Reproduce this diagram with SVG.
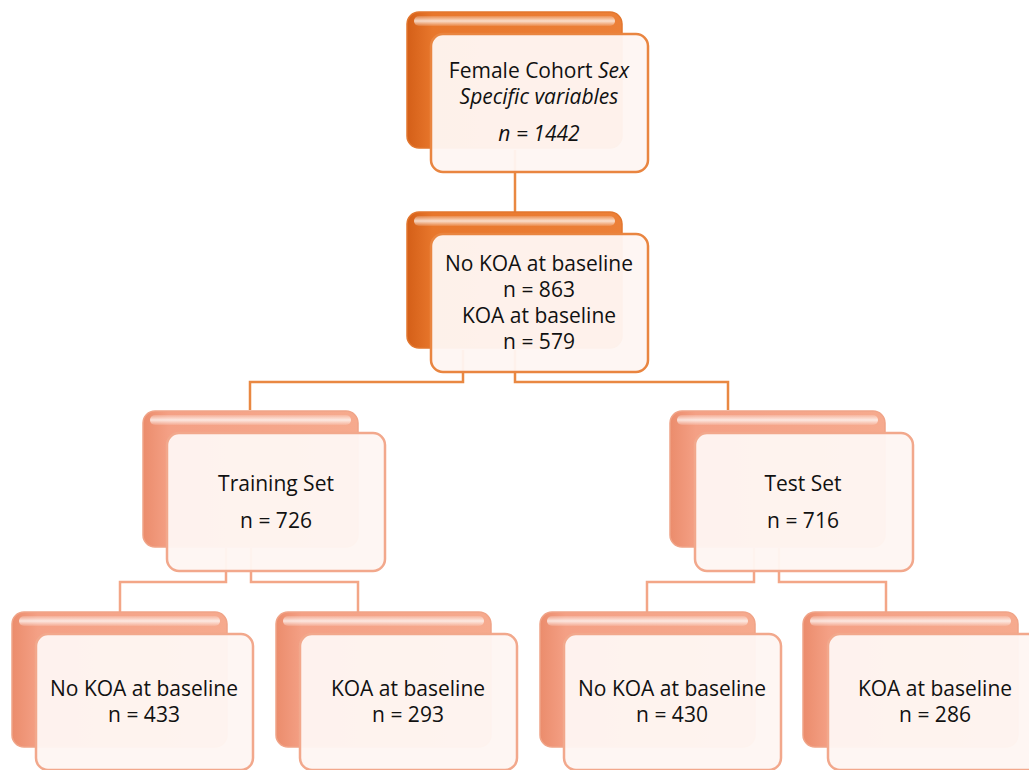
<svg xmlns="http://www.w3.org/2000/svg" width="1029" height="770" viewBox="0 0 1029 770">
<defs>
<linearGradient id="gDark" x1="0" y1="0" x2="1" y2="0">
<stop offset="0" stop-color="#d45f18"/>
<stop offset="0.12" stop-color="#e8772c"/>
<stop offset="1" stop-color="#ec8038"/>
</linearGradient>
<linearGradient id="gLight" x1="0" y1="0" x2="1" y2="0">
<stop offset="0" stop-color="#eb8c6c"/>
<stop offset="0.12" stop-color="#f4a085"/>
<stop offset="1" stop-color="#f6aa8e"/>
</linearGradient>
<linearGradient id="gHi" x1="0" y1="0" x2="0" y2="1">
<stop offset="0" stop-color="#ffffff" stop-opacity="0.15"/>
<stop offset="0.5" stop-color="#ffffff" stop-opacity="0.75"/>
<stop offset="1" stop-color="#ffffff" stop-opacity="0.1"/>
</linearGradient>
<style>
.bd{fill:url(#gDark);stroke:#e2772f;stroke-width:1.5}
.bl{fill:url(#gLight);stroke:#f0a488;stroke-width:1.5}
.hi{fill:url(#gHi)}
.fd{fill:#fef6f2;fill-opacity:0.96;stroke:#e98540;stroke-width:2.5}
.fl{fill:#fef6f3;fill-opacity:0.96;stroke:#f2a88c;stroke-width:2.5}
.cd{fill:none;stroke:#e98842;stroke-width:2.5}
.cl{fill:none;stroke:#f3a687;stroke-width:2.5}
text{font-family:"Open Sans","Liberation Sans",sans-serif;font-size:21px;fill:#111;text-anchor:middle}
.it{font-style:italic}
</style>
</defs>
<g id="connectors">
<path class="cd" d="M515,150 V212"/>
<path class="cd" d="M463,350 V382 H250 V410"/>
<path class="cd" d="M515,350 V382 H728 V410"/>
<path class="cl" d="M226,548 V582 H120 V612"/>
<path class="cl" d="M251,548 V582 H358 V612"/>
<path class="cl" d="M754,548 V582 H647 V612"/>
<path class="cl" d="M779,548 V582 H886 V612"/>
</g>
<g id="node-cohort">
<rect class="bd" x="407" y="12" width="215" height="136" rx="12"/>
<rect class="hi" x="414" y="16" width="201" height="10" rx="5"/>
<rect class="fd" x="431" y="34" width="217" height="138" rx="12"/>
<text x="539" y="78">Female Cohort <tspan class="it">Sex</tspan></text>
<text x="539" y="104" class="it">Specific variables</text>
<text x="539" y="141" class="it">n = 1442</text>
</g>
<g id="node-baseline">
<rect class="bd" x="407" y="212" width="215" height="136" rx="12"/>
<rect class="hi" x="414" y="216" width="201" height="10" rx="5"/>
<rect class="fd" x="431" y="234" width="217" height="138" rx="12"/>
<text x="539" y="271">No KOA at baseline</text>
<text x="539" y="297">n = 863</text>
<text x="539" y="323">KOA at baseline</text>
<text x="539" y="349">n = 579</text>
</g>
<g id="node-training">
<rect class="bl" x="143" y="411" width="215" height="136" rx="12"/>
<rect class="hi" x="150" y="415" width="201" height="10" rx="5"/>
<rect class="fl" x="167" y="433" width="218" height="138" rx="12"/>
<text x="276" y="491">Training Set</text>
<text x="276" y="528">n = 726</text>
</g>
<g id="node-test">
<rect class="bl" x="670" y="411" width="215" height="136" rx="12"/>
<rect class="hi" x="677" y="415" width="201" height="10" rx="5"/>
<rect class="fl" x="695" y="433" width="218" height="138" rx="12"/>
<text x="803" y="491">Test Set</text>
<text x="803" y="528">n = 716</text>
</g>
<g id="node-train-nokoa">
<rect class="bl" x="12" y="612" width="215" height="135" rx="12"/>
<rect class="hi" x="19" y="616" width="201" height="10" rx="5"/>
<rect class="fl" x="36" y="634" width="217" height="136" rx="12"/>
<text x="144" y="696">No KOA at baseline</text>
<text x="144" y="722">n = 433</text>
</g>
<g id="node-train-koa">
<rect class="bl" x="276" y="612" width="215" height="135" rx="12"/>
<rect class="hi" x="283" y="616" width="201" height="10" rx="5"/>
<rect class="fl" x="300" y="634" width="217" height="136" rx="12"/>
<text x="408" y="696">KOA at baseline</text>
<text x="408" y="722">n = 293</text>
</g>
<g id="node-test-nokoa">
<rect class="bl" x="540" y="612" width="215" height="135" rx="12"/>
<rect class="hi" x="547" y="616" width="201" height="10" rx="5"/>
<rect class="fl" x="564" y="634" width="217" height="136" rx="12"/>
<text x="672" y="696">No KOA at baseline</text>
<text x="672" y="722">n = 430</text>
</g>
<g id="node-test-koa">
<rect class="bl" x="803" y="612" width="215" height="135" rx="12"/>
<rect class="hi" x="810" y="616" width="201" height="10" rx="5"/>
<rect class="fl" x="828" y="634" width="217" height="136" rx="12"/>
<text x="935" y="696">KOA at baseline</text>
<text x="935" y="722">n = 286</text>
</g>
</svg>
